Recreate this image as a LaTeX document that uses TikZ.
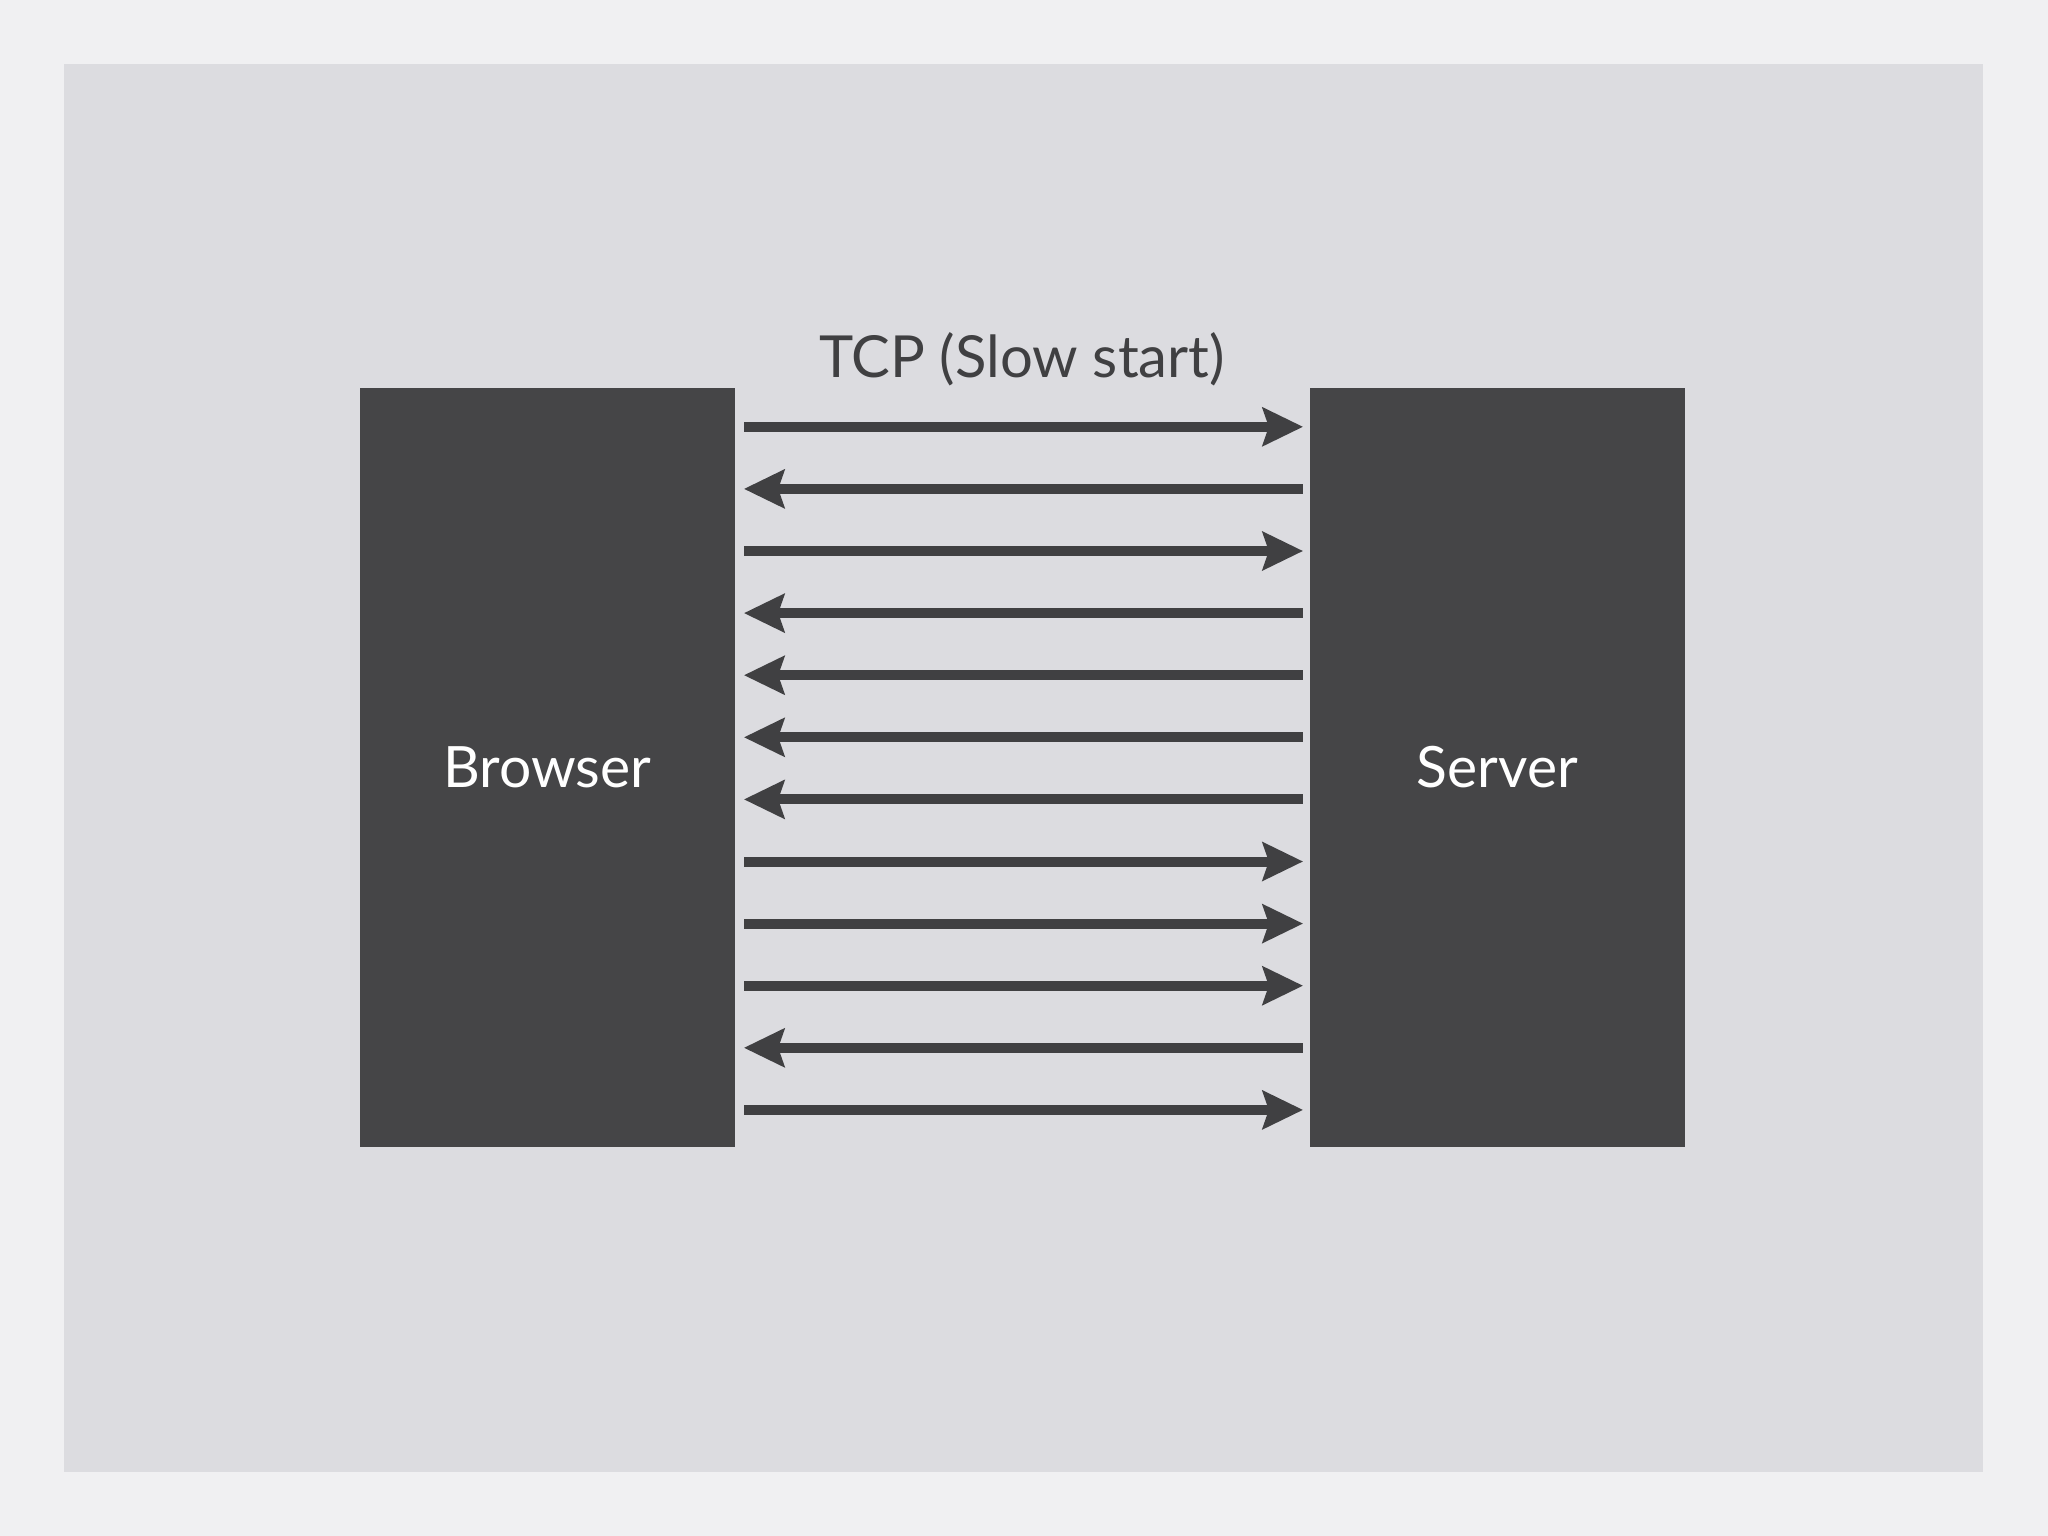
\documentclass[tikz,border=0pt]{standalone}
\usepackage{fontspec}
\setmainfont{Lato}
\usetikzlibrary{arrows.meta}
\definecolor{paper}{HTML}{F0F0F2}
\definecolor{panel}{HTML}{DCDCE0}
\definecolor{boxgray}{HTML}{454547}
\definecolor{inkgray}{HTML}{404042}
\tikzset{
  host/.style={fill=boxgray,minimum width=375pt,minimum height=759pt,inner sep=0pt,text=white,font=\fontsize{57}{68}\selectfont},
  msg/.style={line width=10pt,inkgray,shorten <=9pt,shorten >=7pt},
  >={Stealth[length=41pt,width=40pt,inset=7pt,line width=0pt,fill=inkgray]}
}
\begin{document}
\begin{tikzpicture}[x=1pt,y=-1pt]
    \useasboundingbox[fill=paper] (0,0) rectangle (2048,1536);
    \fill[panel] (64,64) rectangle (1983,1472);
    \node[host] (browser) at (547.5,767.5) {Browser};
    \node[host] (server) at (1497.5,767.5) {Server};
    \node[inkgray,font=\fontsize{58}{70}\selectfont,anchor=base] (title) at (1022,377) {TCP (Slow start)};
    \foreach \dir [count=\i from 0] in {->,<-,->,<-,<-,<-,<-,->,->,->,<-,->}
        \draw[msg,\dir] ([yshift=-39pt-62.1pt*\i]browser.north east) -- ([yshift=-39pt-62.1pt*\i]server.north west);
\end{tikzpicture}
\end{document}
